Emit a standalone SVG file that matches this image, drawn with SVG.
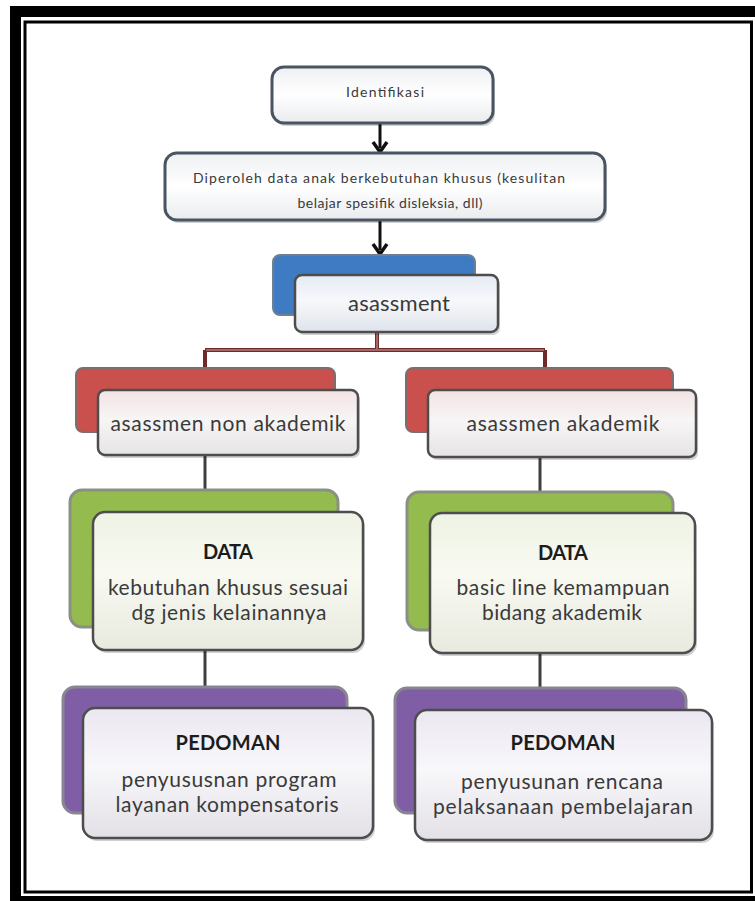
<svg xmlns="http://www.w3.org/2000/svg" width="755" height="901" viewBox="0 0 755 901">
<defs>
<style>
.t{font-family:Lato,"Open Sans","Liberation Sans",sans-serif;fill:#3a3a3a;text-anchor:middle}
.b{font-family:Lato,"Open Sans","Liberation Sans",sans-serif;fill:#1c1c1c;text-anchor:middle;font-weight:bold}
.top{fill:url(#gw);stroke:#4a5563;stroke-width:3}
.front{stroke:#4d4d4d;stroke-width:2.5}
.sh{fill:#000;opacity:0.18}
.blk{stroke:#111;stroke-width:3;fill:none}
.gry{stroke:#3f3f3f;stroke-width:3;fill:none}
</style>
<linearGradient id="gw" x1="0" y1="0" x2="0" y2="1"><stop offset="0" stop-color="#eef0f3"/><stop offset="0.5" stop-color="#ffffff"/><stop offset="1" stop-color="#e9ebee"/></linearGradient>
<linearGradient id="gb" x1="0" y1="0" x2="0" y2="1"><stop offset="0" stop-color="#e4eaf4"/><stop offset="0.45" stop-color="#f7f8fb"/><stop offset="1" stop-color="#dfe3ea"/></linearGradient>
<linearGradient id="gr" x1="0" y1="0" x2="0" y2="1"><stop offset="0" stop-color="#f3e3e3"/><stop offset="0.45" stop-color="#f7f5f5"/><stop offset="1" stop-color="#e6e4e4"/></linearGradient>
<linearGradient id="gg" x1="0" y1="0" x2="0" y2="1"><stop offset="0" stop-color="#eef3e4"/><stop offset="0.45" stop-color="#f8faf2"/><stop offset="1" stop-color="#e8eadf"/></linearGradient>
<linearGradient id="gp" x1="0" y1="0" x2="0" y2="1"><stop offset="0" stop-color="#ebe7f1"/><stop offset="0.45" stop-color="#f8f7fa"/><stop offset="1" stop-color="#e3e1e7"/></linearGradient>
</defs>

<g id="frame">
<rect x="10" y="6" width="745" height="895" fill="#000"/>
<rect x="21" y="17" width="734" height="879" fill="#fff"/>
<rect x="25" y="22" width="726.5" height="870" fill="#fff" stroke="#000" stroke-width="3"/>
</g>

<g id="connectors">
<line class="blk" x1="380" y1="123" x2="380" y2="148"/>
<path d="M373,142 L380,152 L387,142" fill="none" stroke="#111" stroke-width="3.5"/>
<line class="blk" x1="380" y1="220" x2="380" y2="250"/>
<path d="M373,244 L380,254 L387,244" fill="none" stroke="#111" stroke-width="3.5"/>
<path d="M377,332 V350 M205,350 H545 M205,350 V368 M545,350 V368" fill="none" stroke="#6e2a2a" stroke-width="4"/>
<path d="M377,332 V349 M206,350 H544" fill="none" stroke="#d8a3a3" stroke-width="1"/>
<line class="gry" x1="205" y1="455" x2="205" y2="490"/>
<line class="gry" x1="540" y1="457" x2="540" y2="492"/>
<line class="gry" x1="205" y1="650" x2="205" y2="687"/>
<line class="gry" x1="540" y1="653" x2="540" y2="688"/>
</g>

<g id="identifikasi">
<rect x="274" y="70" width="221" height="56" rx="12" class="sh"/>
<rect x="272" y="67" width="221" height="56" rx="12" class="top"/>
<text class="t" x="385" y="97" font-size="14" textLength="78" lengthAdjust="spacing">Identifikasi</text>
</g>

<g id="diperoleh">
<rect x="167" y="156" width="440" height="67" rx="12" class="sh"/>
<rect x="165" y="153" width="440" height="67" rx="12" class="top"/>
<text class="t" x="379" y="183" font-size="14" textLength="372" lengthAdjust="spacing">Diperoleh data anak berkebutuhan khusus (kesulitan</text>
<text class="t" x="390" y="208" font-size="14" textLength="185" lengthAdjust="spacing">belajar spesifik disleksia, dll)</text>
</g>

<g id="asassment">
<rect x="273" y="255" width="202" height="60" rx="7" fill="#3e7bc2" stroke="#6f7f90" stroke-width="2"/>
<rect x="297" y="278" width="203" height="57" rx="7" class="sh"/>
<rect x="295" y="275" width="203" height="57" rx="7" fill="url(#gb)" class="front"/>
<text class="t" x="399" y="311" font-size="22" textLength="102" lengthAdjust="spacing">asassment</text>
</g>

<g id="asassmen-non-akademik">
<rect x="76" y="368" width="259" height="64" rx="7" fill="#c9504d" stroke="#7d6d6d" stroke-width="2"/>
<rect x="100" y="393" width="260" height="65" rx="7" class="sh"/>
<rect x="98" y="390" width="260" height="65" rx="7" fill="url(#gr)" class="front"/>
<text class="t" x="228" y="431" font-size="21" textLength="235" lengthAdjust="spacing">asassmen non akademik</text>
</g>

<g id="asassmen-akademik">
<rect x="406" y="368" width="267" height="64" rx="7" fill="#c9504d" stroke="#7d6d6d" stroke-width="2"/>
<rect x="430" y="393" width="268" height="67" rx="7" class="sh"/>
<rect x="428" y="390" width="268" height="67" rx="7" fill="url(#gr)" class="front"/>
<text class="t" x="563" y="431" font-size="21" textLength="193" lengthAdjust="spacing">asassmen akademik</text>
</g>

<g id="data-kiri">
<rect x="70" y="490" width="268" height="137" rx="12" fill="#94bb4e" stroke="#8a9184" stroke-width="3"/>
<rect x="95" y="515" width="270" height="138" rx="12" class="sh"/>
<rect x="93" y="512" width="270" height="138" rx="12" fill="url(#gg)" class="front"/>
<text class="b" x="228" y="559" font-size="20" textLength="50" lengthAdjust="spacing">DATA</text>
<text class="t" x="228" y="595" font-size="21" textLength="240" lengthAdjust="spacing">kebutuhan khusus sesuai</text>
<text class="t" x="229" y="620" font-size="21" textLength="195" lengthAdjust="spacing">dg jenis kelainannya</text>
</g>

<g id="data-kanan">
<rect x="407" y="492" width="266" height="138" rx="12" fill="#94bb4e" stroke="#8a9184" stroke-width="3"/>
<rect x="432" y="516" width="265" height="140" rx="12" class="sh"/>
<rect x="430" y="513" width="265" height="140" rx="12" fill="url(#gg)" class="front"/>
<text class="b" x="563" y="560" font-size="20" textLength="50" lengthAdjust="spacing">DATA</text>
<text class="t" x="563" y="595" font-size="21" textLength="213" lengthAdjust="spacing">basic line kemampuan</text>
<text class="t" x="562" y="620" font-size="21" textLength="160" lengthAdjust="spacing">bidang akademik</text>
</g>

<g id="pedoman-kiri">
<rect x="63" y="687" width="284" height="126" rx="12" fill="#7f5ea6" stroke="#8a8592" stroke-width="3"/>
<rect x="85" y="711" width="290" height="130" rx="12" class="sh"/>
<rect x="83" y="708" width="290" height="130" rx="12" fill="url(#gp)" class="front"/>
<text class="b" x="228" y="750" font-size="20" textLength="105" lengthAdjust="spacing">PEDOMAN</text>
<text class="t" x="229" y="787" font-size="21" textLength="215" lengthAdjust="spacing">penyususnan program</text>
<text class="t" x="227" y="812" font-size="21" textLength="223" lengthAdjust="spacing">layanan kompensatoris</text>
</g>

<g id="pedoman-kanan">
<rect x="395" y="688" width="291" height="125" rx="12" fill="#7f5ea6" stroke="#8a8592" stroke-width="3"/>
<rect x="417" y="713" width="297" height="130" rx="12" class="sh"/>
<rect x="415" y="710" width="297" height="130" rx="12" fill="url(#gp)" class="front"/>
<text class="b" x="563" y="750" font-size="20" textLength="105" lengthAdjust="spacing">PEDOMAN</text>
<text class="t" x="562" y="789" font-size="21" textLength="202" lengthAdjust="spacing">penyusunan rencana</text>
<text class="t" x="563" y="814" font-size="21" textLength="260" lengthAdjust="spacing">pelaksanaan pembelajaran</text>
</g>
</svg>
